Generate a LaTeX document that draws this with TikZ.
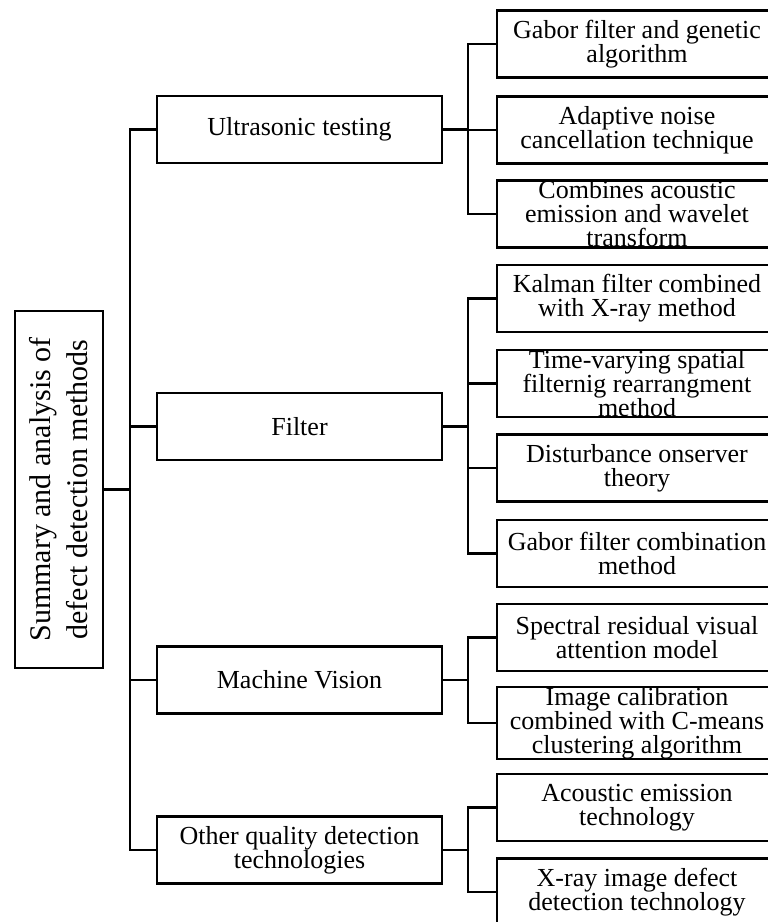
\documentclass[tikz,border=0pt]{standalone}
\usepackage{fontspec}
\setmainfont{Liberation Serif}
\begin{document}
\begin{tikzpicture}[x=1pt,y=-1pt,
  boxbase/.style={draw, line width=2.6pt, rectangle, inner sep=0pt, align=center,
    font=\fontsize{26}{24}\selectfont},
  leaf/.style={boxbase, minimum width=280pt, minimum height=67pt},
  midbox/.style={boxbase, minimum width=285pt, minimum height=67pt},
  rootbox/.style={boxbase, minimum width=357pt, minimum height=88pt, rotate=90,
    font=\fontsize{30}{37}\selectfont},
  conn/.style={line width=2.2pt}]
\useasboundingbox (0,0) rectangle (768,922);
% root
\node[rootbox] (root) at (59,489.5) {Summary and analysis of\\defect detection methods};
% middle
\node[midbox] (m1) at (299.5,129.5) {Ultrasonic testing};
\node[midbox] (m2) at (299.5,426.5) {Filter};
\node[midbox] (m3) at (299.5,680) {Machine Vision};
\node[midbox] (m4) at (299.5,850) {Other quality detection\\technologies};
% leaves
\node[leaf] (l1) at (637,44) {Gabor filter and genetic\\algorithm};
\node[leaf] (l2) at (637,130) {Adaptive noise\\cancellation technique};
\node[leaf] (l3) at (637,214) {Combines acoustic\\emission and wavelet\\transform};
\node[leaf] (l4) at (637,298.5) {Kalman filter combined\\with X-ray method};
\node[leaf] (l5) at (637,383.5) {Time-varying spatial\\filternig rearrangment\\method};
\node[leaf] (l6) at (637,468) {Disturbance onserver\\theory};
\node[leaf] (l7) at (637,553.5) {Gabor filter combination\\method};
\node[leaf] (l8) at (637,637.5) {Spectral residual visual\\attention model};
\node[leaf] (l9) at (637,723) {Image calibration\\combined with C-means\\clustering algorithm};
\node[leaf] (l10) at (637,807.5) {Acoustic emission\\technology};
\node[leaf] (l11) at (637,892) {X-ray image defect\\detection technology};
% trunk
\coordinate (T) at (130,489.5);
\draw[conn] (root.south) -- (T);
\draw[conn] (m1.west) -| (T) |- (m4.west);
\draw[conn] (m2.west) -- (m2.west -| T);
\draw[conn] (m3.west) -- (m3.west -| T);
% group joints
\coordinate (J1) at (468,129.5);
\coordinate (J2) at (468,426.5);
\coordinate (J3) at (468,680);
\coordinate (J4) at (468,850);
\draw[conn] (m1.east) -- (J1);
\draw[conn] (l1.west) -| (J1) |- (l3.west);
\draw[conn] (l2.west) -- (l2.west -| J1);
\draw[conn] (m2.east) -- (J2);
\draw[conn] (l4.west) -| (J2) |- (l7.west);
\draw[conn] (l5.west) -- (l5.west -| J2);
\draw[conn] (l6.west) -- (l6.west -| J2);
\draw[conn] (m3.east) -- (J3);
\draw[conn] (l8.west) -| (J3) |- (l9.west);
\draw[conn] (m4.east) -- (J4);
\draw[conn] (l10.west) -| (J4) |- (l11.west);
\end{tikzpicture}
\end{document}
